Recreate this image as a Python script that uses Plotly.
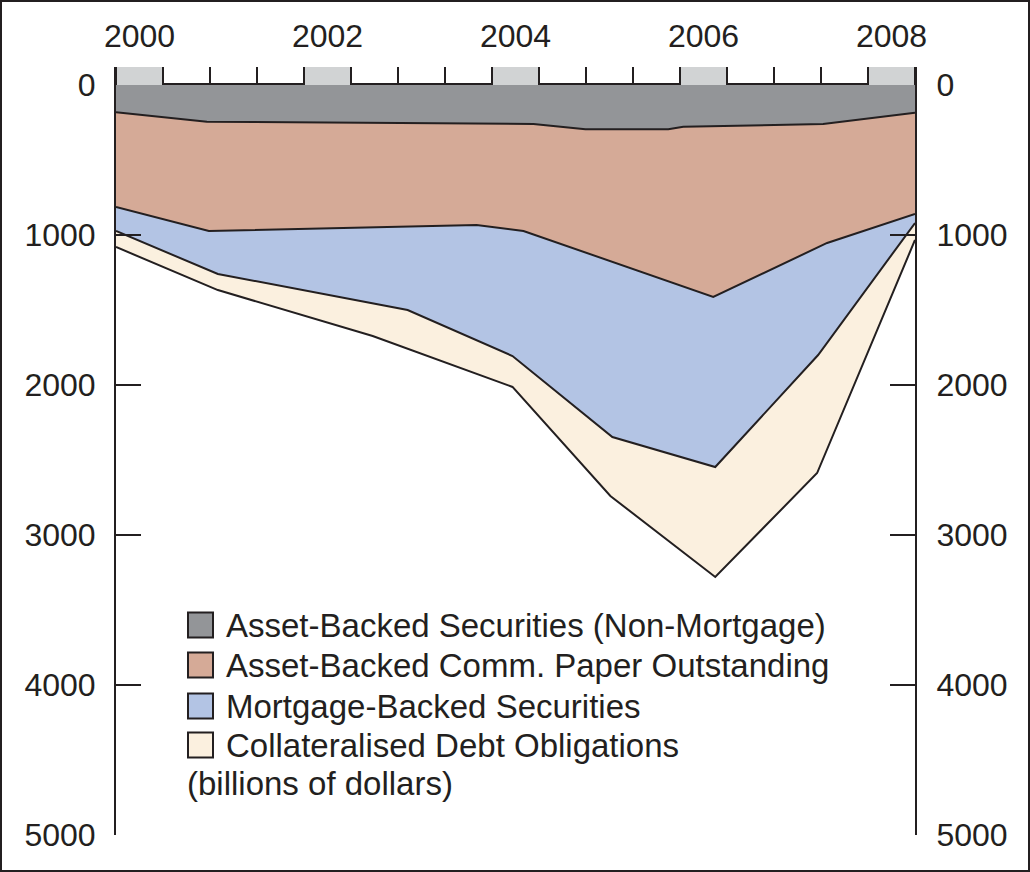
import plotly.graph_objects as go

# ---------------- data (billions of dollars, cumulative boundaries) ----------------
abs_years = [2000.0, 2000.91, 2004.18, 2004.70, 2005.53, 2005.68, 2007.08, 2008.0]
abs_cum = [182, 245, 260, 295, 295, 278, 260, 185]

abcp_years = [2000.0, 2000.93, 2003.61, 2004.08, 2005.98, 2007.12, 2008.0]
abcp_cum = [813, 973, 933, 973, 1413, 1053, 860]

mbs_years = [2000.0, 2001.02, 2002.92, 2003.97, 2004.97, 2006.0, 2007.03, 2008.0]
mbs_cum = [973, 1260, 1500, 1807, 2347, 2547, 1800, 920]

cdo_years = [2000.0, 2001.02, 2002.57, 2003.97, 2004.95, 2006.0, 2007.02, 2008.0]
cdo_cum = [1080, 1367, 1673, 2013, 2740, 3280, 2587, 1033]

series_names = [
    "Asset-Backed Securities (Non-Mortgage)",
    "Asset-Backed Comm. Paper Outstanding",
    "Mortgage-Backed Securities",
    "Collateralised Debt Obligations",
]
unit_label = "(billions of dollars)"

year_labels = ["2000", "2002", "2004", "2006", "2008"]
year_label_slots = [0.5, 4.5, 8.5, 12.5, 16.5]   # positions on the half-year strip
y_ticks = [0, 1000, 2000, 3000, 4000, 5000]

# ---------------- style ----------------
DARK = "#231f20"
FILLS = ["#939598", "#d5aa97", "#b3c4e4", "#fbf0df"]
STRIP_GRAY = "#d1d3d4"
FONT = "Liberation Sans, Arial, sans-serif"

W, H = 1030, 872
ML, MR, MT, MB = 116, 115, 67, 37
PW, PH = W - ML - MR, H - MT - MB
STRIP = 18
main_top = 1 - STRIP / PH


def px_x(x):
    return (x - ML) / PW


def px_y(y):
    return 1 - (y - MT) / PH


fig = go.Figure()

fills = ["tozeroy", "tonexty", "tonexty", "tonexty"]
xs = [abs_years, abcp_years, mbs_years, cdo_years]
ys = [abs_cum, abcp_cum, mbs_cum, cdo_cum]
for name, x, y, f, c in zip(series_names, xs, ys, fills, FILLS):
    fig.add_trace(go.Scatter(
        x=x, y=y, name=name, mode="lines", fill=f, fillcolor=c,
        line=dict(color=DARK, width=2), showlegend=False, hoverinfo="skip",
    ))

# year strip on top
fig.add_trace(go.Bar(
    x=year_label_slots, y=[1] * len(year_label_slots), width=1,
    marker=dict(color=STRIP_GRAY, line=dict(width=0)),
    xaxis="x2", yaxis="y2", showlegend=False, hoverinfo="skip",
))

# right axis companion
fig.add_trace(go.Scatter(x=[2000], y=[0], yaxis="y3", mode="markers",
                         marker=dict(opacity=0), showlegend=False, hoverinfo="skip"))

shapes = []
annotations = []
# outer frame
shapes.append(dict(type="rect", xref="paper", yref="paper",
                   x0=px_x(1), x1=px_x(W - 1), y0=px_y(H - 1), y1=px_y(1),
                   line=dict(color=DARK, width=2), fillcolor="rgba(0,0,0,0)"))

# manual legend
row_centers = [625, 665, 706, 745]
for name, c, yc in zip(series_names, FILLS, row_centers):
    shapes.append(dict(type="rect", xref="paper", yref="paper",
                       x0=px_x(188), x1=px_x(213), y0=px_y(yc + 12.5), y1=px_y(yc - 12.5),
                       line=dict(color=DARK, width=2), fillcolor=c))
    annotations.append(dict(xref="paper", yref="paper", x=px_x(224), y=px_y(yc),
                            xanchor="left", yanchor="middle", showarrow=False,
                            text=name, font=dict(family=FONT, size=33, color=DARK)))
annotations.append(dict(xref="paper", yref="paper", x=px_x(185), y=px_y(783),
                        xanchor="left", yanchor="middle", showarrow=False,
                        text=unit_label, font=dict(family=FONT, size=33, color=DARK)))

tickfont = dict(family=FONT, size=32, color=DARK)

fig.update_layout(
    width=W, height=H,
    margin=dict(l=ML, r=MR, t=MT, b=MB, pad=0),
    paper_bgcolor="white", plot_bgcolor="white",
    showlegend=False,
    shapes=shapes, annotations=annotations,
    xaxis=dict(range=[2000, 2008], domain=[0, 1], anchor="y", side="top",
               showline=True, linecolor=DARK, linewidth=2, showgrid=False,
               zeroline=False, showticklabels=False, ticks=""),
    yaxis=dict(range=[5000, 0], domain=[0, main_top], anchor="x",
               tickvals=y_ticks, ticks="inside", ticklen=25, tickwidth=2, tickcolor=DARK,
               showline=True, linecolor=DARK, linewidth=2, showgrid=False, zeroline=False,
               tickfont=tickfont, ticklabelstandoff=12),
    yaxis3=dict(range=[5000, 0], overlaying="y", side="right", anchor="x",
                tickvals=y_ticks, ticks="inside", ticklen=25, tickwidth=2, tickcolor=DARK,
                showline=True, linecolor=DARK, linewidth=2, showgrid=False, zeroline=False,
                tickfont=tickfont, ticklabelstandoff=13),
    xaxis2=dict(range=[0, 17], domain=[0, 1], anchor="y2", side="top",
                tickvals=year_label_slots, ticktext=year_labels, ticks="",
                tickfont=tickfont, ticklabelstandoff=13,
                showgrid=False, zeroline=False, showline=False,
                minor=dict(dtick=1, tick0=0, ticks="inside", ticklen=STRIP,
                           tickwidth=2, tickcolor=DARK, showgrid=False)),
    yaxis2=dict(range=[0, 1], domain=[main_top, 1], anchor="x2",
                showticklabels=False, ticks="", showgrid=False, zeroline=False,
                showline=True, mirror=True, linecolor=DARK, linewidth=2),
    bargap=0,
)

fig.write_html("out.html")
